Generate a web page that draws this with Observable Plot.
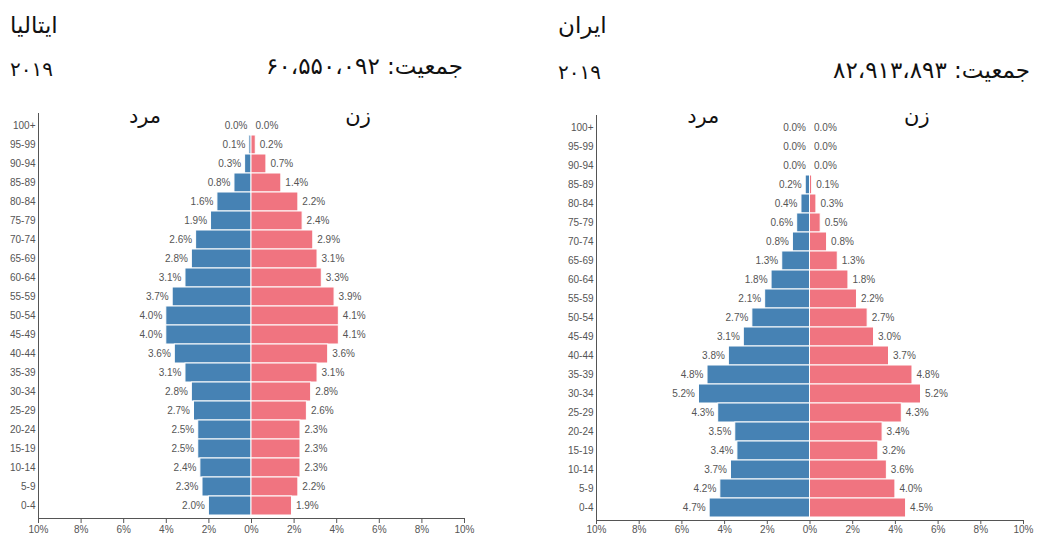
<!DOCTYPE html>
<html><head><meta charset="utf-8">
<script src="https://cdn.jsdelivr.net/npm/d3@7"></script>
<script src="https://cdn.jsdelivr.net/npm/@observablehq/plot@0.6"></script>
<style>
html,body{margin:0;padding:0;background:#fff;}
body{width:1037px;height:536px;position:relative;overflow:hidden;font-family:"DejaVu Sans",sans-serif;}
.t{position:absolute;color:#111;white-space:nowrap;line-height:1;}
.country{font-size:23px;}
.year{font-size:20px;letter-spacing:12px;direction:ltr;}
.pop{font-size:23px;direction:rtl;text-align:right;}
.chart{position:absolute;}
</style></head>
<body>
<div class="t country" style="left:10px;top:14px;">ایتالیا</div>
<div class="t year" style="left:10px;top:59px;">۲۰۱۹</div>
<div class="t pop" style="right:574px;top:55px;">جمعیت: ۶۰،۵۵۰،۰۹۲</div>
<div class="t country" style="left:558px;top:14px;">ایران</div>
<div class="t year" style="left:558px;top:62px;">۲۰۱۹</div>
<div class="t pop" style="right:7px;top:59px;">جمعیت: ۸۲،۹۱۳،۸۹۳</div>
<div id="c1" class="chart" style="left:0px;top:100px;"></div>
<div id="c2" class="chart" style="left:558px;top:100px;"></div>
<script>
const ages = ["100+","95-99","90-94","85-89","80-84","75-79","70-74","65-69","60-64","55-59","50-54","45-49","40-44","35-39","30-34","25-29","20-24","15-19","10-14","5-9","0-4"];
const italyMale   = [0.0,0.1,0.3,0.8,1.6,1.9,2.6,2.8,3.1,3.7,4.0,4.0,3.6,3.1,2.8,2.7,2.5,2.5,2.4,2.3,2.0];
const italyFemale = [0.0,0.2,0.7,1.4,2.2,2.4,2.9,3.1,3.3,3.9,4.1,4.1,3.6,3.1,2.8,2.6,2.3,2.3,2.3,2.2,1.9];
const iranMale    = [0.0,0.0,0.0,0.2,0.4,0.6,0.8,1.3,1.8,2.1,2.7,3.1,3.8,4.8,5.2,4.3,3.5,3.4,3.7,4.2,4.7];
const iranFemale  = [0.0,0.0,0.0,0.1,0.3,0.5,0.8,1.3,1.8,2.2,2.7,3.0,3.7,4.8,5.2,4.3,3.4,3.2,3.6,4.0,4.5];
const sexLabels = ["مرد","زن"];
const xTicks = [-10,-8,-6,-4,-2,0,2,4,6,8,10];
const maleColor = "#4682b4";
const femaleColor = "#f07480";

function pyramid(male, female, opts) {
  const rows = ages.map((a,i) => ({age:a, male:male[i], female:female[i]}));
  const sexRows = [{label:sexLabels[0], x:-5},{label:sexLabels[1], x:5}];
  return Plot.plot({
    width: opts.width, height: 436,
    marginLeft: 38, marginRight: opts.marginRight, marginTop: opts.marginTop, marginBottom: opts.marginBottom,
    style: {fontFamily: "'Liberation Sans', Arial, sans-serif", fontSize: "10px", color: "#555", background: "transparent"},
    x: {domain: [-10, 10], ticks: xTicks, tickFormat: d => Math.abs(d) + "%", tickSize: opts.tickSize, tickPadding: opts.tickPadding, label: null},
    y: {domain: ages, padding: 0, tickSize: 0, tickPadding: 3, label: null},
    marks: [
      Plot.barX(rows, {y: "age", x1: 0, x2: d => -d.male, fill: maleColor, stroke: "white", strokeWidth: 1}),
      Plot.barX(rows, {y: "age", x1: 0, x2: "female", fill: femaleColor, stroke: "white", strokeWidth: 1}),
      Plot.text(rows, {y: "age", x: d => -d.male, text: d => d.male.toFixed(1) + "%", textAnchor: "end", dx: -4, fill: "#555", stroke: "white", strokeWidth: 3}),
      Plot.text(rows, {y: "age", x: "female", text: d => d.female.toFixed(1) + "%", textAnchor: "start", dx: 4, fill: "#555", stroke: "white", strokeWidth: 3}),
      Plot.text(sexRows, {x: "x", y: () => ages[0], text: "label", fontSize: 21, fill: "#111", fontFamily: "DejaVu Sans", dy: opts.sexDy}),
      Plot.frame({anchor: "left", stroke: "#555"}),
      Plot.frame({anchor: "bottom", stroke: "#555"})
    ]
  });
}
document.getElementById("c1").append(pyramid(italyMale, italyFemale, {width: 480, marginRight: 16, marginTop: 13, marginBottom: 18, sexDy: -10, tickSize: 5, tickPadding: 2}));
document.getElementById("c2").append(pyramid(iranMale, iranFemale, {width: 479, marginRight: 14, marginTop: 15, marginBottom: 16, sexDy: -12, tickSize: 4, tickPadding: 1}));
</script>
</body></html>
